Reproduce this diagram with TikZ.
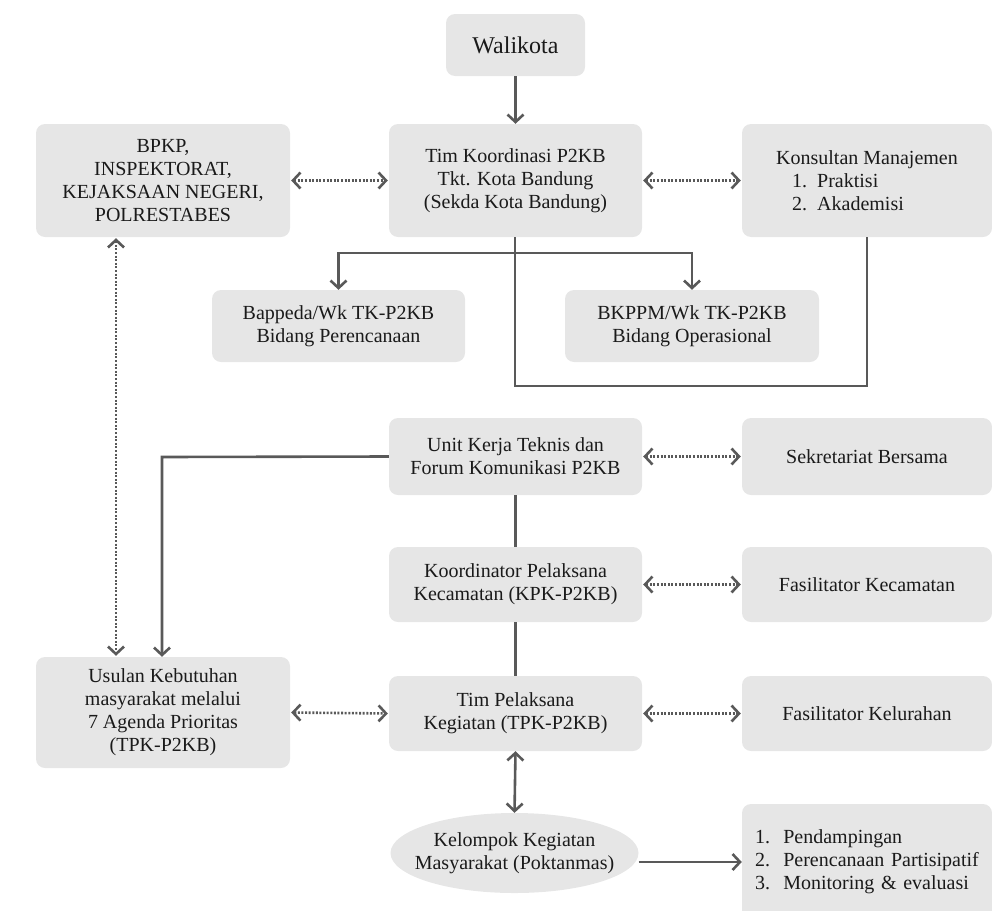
\documentclass[tikz,border=0pt]{standalone}
\usepackage{fontspec}
\setmainfont{Liberation Serif}
\usetikzlibrary{arrows.meta,shapes.geometric}
\definecolor{boxfill}{HTML}{E6E6E6}
\definecolor{linecol}{HTML}{595959}
\definecolor{txtcol}{HTML}{1A1A1A}
\tikzset{
  box/.style={draw=none, fill=boxfill, rounded corners=9pt, minimum width=253pt, align=center, inner sep=0pt, text=txtcol, font=\fontsize{20}{23}\selectfont},
  conn/.style={draw=linecol, line width=2.6pt},
  tipA/.style={-{Straight Barb[length=7.5pt,width=16pt]}},
  tipB/.style={{Straight Barb[length=7.5pt,width=16pt]}-{Straight Barb[length=7.5pt,width=16pt]}},
  dotconn/.style={conn, dash pattern=on 2pt off 1.6pt, tipB, shorten >=1pt, shorten <=1pt},
}
\begin{document}
\begin{tikzpicture}[x=1pt,y=-1pt]
\clip (0,0) rectangle (992,910);
\useasboundingbox (0,0) rectangle (992,910);
% boxes
\node[box, minimum width=139pt, minimum height=62pt, font=\fontsize{24}{28}\selectfont] (wali) at (515.5,45) {Walikota};
\node[box, minimum height=113pt] (tim) at (515.5,180.5) {Tim Koordinasi P2KB\\Tkt. Kota Bandung\\(Sekda Kota Bandung)};
\node[box, minimum width=254pt, minimum height=113pt] (bpkp) at (163,180.5) {BPKP,\\INSPEKTORAT,\\KEJAKSAAN NEGERI,\\POLRESTABES};
\node[box, minimum width=250pt, minimum height=113pt, align=left] (kons) at (867,180.5) {Konsultan Manajemen\\\hspace*{16pt}1.\ \ Praktisi\\\hspace*{16pt}2.\ \ Akademisi};
\node[box, minimum height=72pt] (bapp) at (338.5,326) {Bappeda/Wk TK-P2KB\\Bidang Perencanaan};
\node[box, minimum width=254pt, minimum height=72pt] (bkpp) at (692,326) {BKPPM/Wk TK-P2KB\\Bidang Operasional};
\node[box, minimum height=77pt] (unit) at (515.5,456.5) {Unit Kerja Teknis dan\\Forum Komunikasi P2KB};
\node[box, minimum width=250pt, minimum height=77pt] (sek) at (867,456.5) {Sekretariat Bersama};
\node[box, minimum height=75pt] (koord) at (515.5,584.5) {Koordinator Pelaksana\\Kecamatan (KPK-P2KB)};
\node[box, minimum width=250pt, minimum height=75pt] (fkec) at (867,584.5) {Fasilitator Kecamatan};
\node[box, minimum width=254pt, minimum height=111pt] (usul) at (163,712.5) {Usulan Kebutuhan\\masyarakat melalui\\7 Agenda Prioritas\\(TPK-P2KB)};
\node[box, minimum height=75pt] (tpk) at (515.5,713.5) {Tim Pelaksana\\Kegiatan (TPK-P2KB)};
\node[box, minimum width=250pt, minimum height=75pt] (fkel) at (867,713.5) {Fasilitator Kelurahan};
\node[box, ellipse, minimum width=248pt, minimum height=80pt, inner xsep=-20pt, inner ysep=-2pt] (ell) at (514.5,853) {Kelompok Kegiatan\\Masyarakat (Poktanmas)};
\node[box, minimum width=250pt, minimum height=116pt, align=left, text width=224pt, inner xsep=13pt] (list) at (867,862) {1.\ \ Pendampingan\\2.\ \ Perencanaan Partisipatif\\3.\ \ Monitoring \& evaluasi};
% solid connectors
\draw[conn, tipA] (wali.south) -- (tim.north);
\coordinate (split) at (515,253);
\coordinate (loopc) at (515,386);
\draw[conn] (tim.south -| split) -- (loopc) -| (kons.south);
\draw[conn, tipA] (split) -| (bapp.north);
\draw[conn, tipA] (split) -| (bkpp.north);
\coordinate (ucorner) at (162,457);
\draw[conn, tipA] (unit.west) -- (ucorner) -- (usul.north -| ucorner);
\draw[conn] (unit.south) -- (koord.north);
\draw[conn] (koord.south) -- (tpk.north);
\draw[conn, tipB] (tpk.south) -- (ell.north);
\draw[conn, tipA] (ell.east |- list.west) -- (list.west);
% dotted connectors
\draw[dotconn] (bpkp.east) -- (tim.west);
\draw[dotconn] (tim.east) -- (kons.west);
\draw[dotconn] (unit.east) -- (sek.west);
\draw[dotconn] (koord.east) -- (fkec.west);
\draw[dotconn] (usul.east) -- (tpk.west);
\draw[dotconn] (tpk.east) -- (fkel.west);
\coordinate (vdot) at (116,0);
\draw[dotconn] (bpkp.south -| vdot) -- (usul.north -| vdot);
\end{tikzpicture}
\end{document}
